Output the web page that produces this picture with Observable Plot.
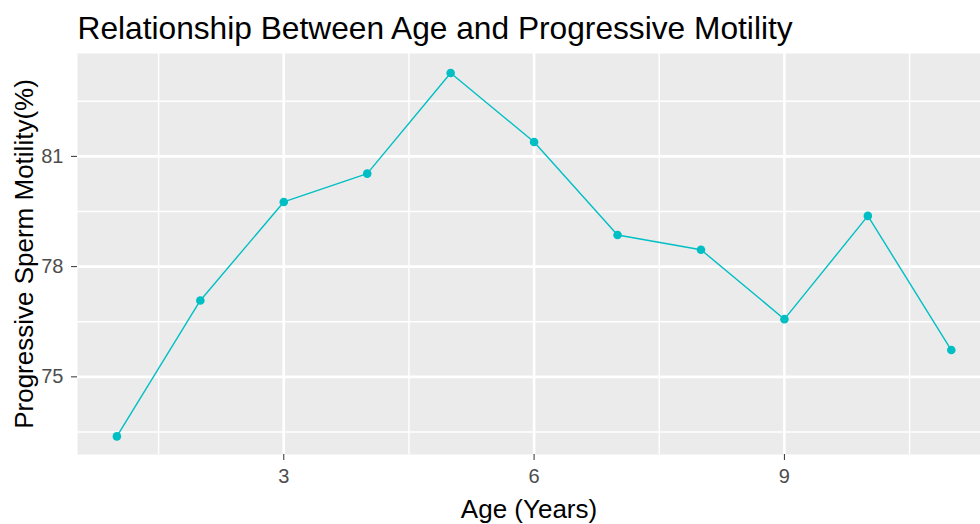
<!DOCTYPE html>
<html>
<head>
<meta charset="utf-8">
<script src="https://cdn.jsdelivr.net/npm/d3@7"></script>
<script src="https://cdn.jsdelivr.net/npm/@observablehq/plot@0.6"></script>
<style>
  html, body { margin: 0; padding: 0; background: #fff; overflow: hidden; }
  #chart svg { display: block; font-family: "Liberation Sans", Arial, sans-serif; }
</style>
</head>
<body>
<div id="chart"></div>
<script>
// Data
const ages = [1, 2, 3, 4, 5, 6, 7, 8, 9, 10, 11];
const motility = [73.38, 77.08, 79.76, 80.53, 83.27, 81.39, 78.86, 78.46, 76.57, 79.38, 75.73];
const xMajorTicks = [3, 6, 9];
const xMinorTicks = [1.5, 4.5, 7.5, 10.5];
const yMajorTicks = [75, 78, 81];
const yMinorTicks = [73.5, 76.5, 79.5, 82.5];
const titleText = "Relationship Between Age and Progressive Motility";
const xTitle = "Age (Years)";
const yTitle = "Progressive Sperm Motility(%)";

const data = ages.map((a, i) => ({age: a, value: motility[i]}));

const lineColor = "#00BFC4";
const textColor = "#4D4D4D";

const chart = Plot.plot({
  width: 980,
  height: 524,
  marginLeft: 77,
  marginRight: 0,
  marginTop: 53,
  marginBottom: 70,
  style: {fontFamily: "'Liberation Sans', Arial, sans-serif", background: "#fff"},
  x: {domain: [0.528, 11.35]},
  y: {domain: [72.887, 83.80]},
  marks: [
    Plot.frame({fill: "#EBEBEB", stroke: null}),
    Plot.gridX(xMinorTicks, {stroke: "#fff", strokeOpacity: 1, strokeWidth: 1.4}),
    Plot.gridY(yMinorTicks, {stroke: "#fff", strokeOpacity: 1, strokeWidth: 1.4}),
    Plot.gridX(xMajorTicks, {stroke: "#fff", strokeOpacity: 1, strokeWidth: 2.6}),
    Plot.gridY(yMajorTicks, {stroke: "#fff", strokeOpacity: 1, strokeWidth: 2.6}),
    Plot.axisX(xMajorTicks, {tickSize: 6, tickPadding: 8, fontSize: 20, color: textColor, label: null, stroke: "#333"}),
    Plot.axisY(yMajorTicks, {tickSize: 6, tickPadding: 8, fontSize: 20, color: textColor, label: null, stroke: "#333"}),
    Plot.line(data, {x: "age", y: "value", stroke: lineColor, strokeWidth: 1.4}),
    Plot.dot(data, {x: "age", y: "value", fill: lineColor, r: 4.3, stroke: null}),
    Plot.text([titleText], {frameAnchor: "top-left", textAnchor: "start", lineAnchor: "middle", dy: -25, fontSize: 31.7, fill: "#000"}),
    Plot.text([xTitle], {frameAnchor: "bottom", textAnchor: "middle", lineAnchor: "middle", dy: 55, fontSize: 26, fill: "#000"}),
    Plot.text([yTitle], {frameAnchor: "left", textAnchor: "middle", lineAnchor: "middle", rotate: -90, dx: -53, fontSize: 26, fill: "#000"})
  ]
});
document.getElementById("chart").appendChild(chart);
</script>
</body>
</html>
